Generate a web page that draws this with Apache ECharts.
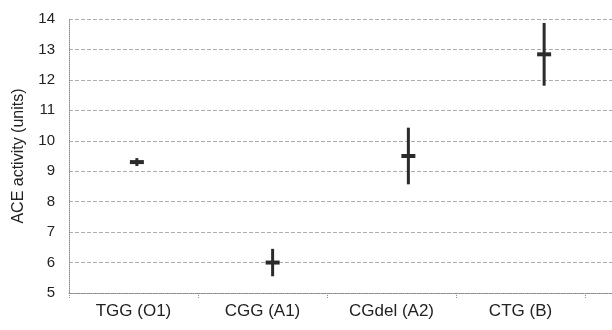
<!DOCTYPE html>
<html>
<head>
<meta charset="utf-8">
<script src="https://cdn.jsdelivr.net/npm/echarts@6/dist/echarts.min.js"></script>
<style>
  html, body { margin: 0; padding: 0; background: #fff; }
  #main { width: 612px; height: 330px; }
</style>
</head>
<body>
<div id="main"></div>
<script>
// 数据
var categories = ['TGG (O1)', 'CGG (A1)', 'CGdel (A2)', 'CTG (B)'];
var xPos = [0.5, 1.5, 2.5, 3.5];
var means = [9.3, 6.0, 9.5, 12.84];
var errors = [0.13, 0.45, 0.93, 1.03];
var yTicks = [5, 14, 1]; // min, max, interval

var points = [];
for (var i = 0; i < means.length; i++) {
    points.push([xPos[i], means[i], means[i] - errors[i], means[i] + errors[i]]);
}

var myChart = echarts.init(document.getElementById('main'));

var font = 'Arial, "Liberation Sans", sans-serif';
var gridColor = '#8c8c8c';

var option = {
    animation: false,
    grid: [
        // 数据区（网格线延伸到右边）
        { left: 69, right: 0, top: 19, bottom: 37 },
        // 类目标签
        { left: 69, width: 516, top: 19, bottom: 37 }
    ],
    xAxis: [
        {
            type: 'value',
            gridIndex: 0,
            min: 0,
            max: 4,
            axisLine: { show: true, lineStyle: { color: gridColor, type: 'dotted', width: 1 } },
            axisTick: { show: false },
            axisLabel: { show: false },
            splitLine: { show: false }
        },
        {
            type: 'category',
            gridIndex: 1,
            data: categories,
            boundaryGap: true,
            axisLine: { show: false },
            axisTick: { show: true, length: 5, lineStyle: { color: gridColor, type: 'dotted' } },
            axisLabel: { color: '#222', fontSize: 17, fontFamily: font, margin: 10 },
            splitLine: { show: false }
        }
    ],
    yAxis: [
        {
            type: 'value',
            gridIndex: 0,
            min: yTicks[0],
            max: yTicks[1],
            interval: yTicks[2],
            name: 'ACE activity (units)',
            nameLocation: 'middle',
            nameGap: 42,
            nameTextStyle: { color: '#222', fontSize: 16, fontFamily: font },
            axisLine: { show: true, lineStyle: { color: gridColor, type: 'dotted', width: 1 } },
            axisTick: { show: false },
            axisLabel: { color: '#222', fontSize: 15, fontFamily: font, margin: 14 },
            splitLine: { show: true, lineStyle: { color: '#acacac', type: 'dashed', width: 1 } }
        },
        {
            type: 'value',
            gridIndex: 1,
            show: false,
            splitLine: { show: false }
        }
    ],
    series: [
        {
            type: 'custom',
            xAxisIndex: 0,
            yAxisIndex: 0,
            data: points,
            renderItem: function (params, api) {
                var x = api.value(0);
                var mid = api.coord([x, api.value(1)]);
                var lo = api.coord([x, api.value(2)]);
                var hi = api.coord([x, api.value(3)]);
                return {
                    type: 'group',
                    children: [
                        {
                            type: 'line',
                            shape: { x1: hi[0], y1: hi[1], x2: lo[0], y2: lo[1] },
                            style: { stroke: '#2b2b2b', lineWidth: 3 }
                        },
                        {
                            type: 'rect',
                            shape: { x: mid[0] - 7, y: mid[1] - 2, width: 14, height: 4 },
                            style: { fill: '#2b2b2b' }
                        }
                    ]
                };
            }
        }
    ]
};

myChart.setOption(option);
</script>
</body>
</html>
